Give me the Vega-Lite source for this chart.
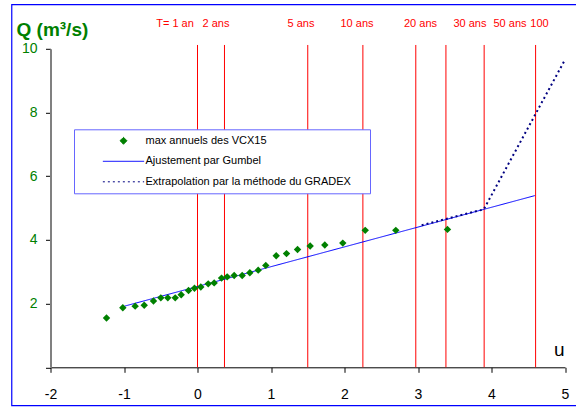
{
  "$schema": "https://vega.github.io/schema/vega-lite/v6.json",
  "width": 514.5,
  "height": 318.5,
  "autosize": "none",
  "padding": {"left": 50.5, "top": 48.8, "right": 11, "bottom": 39.7},
  "background": "white",
  "config": {"view": {"stroke": null}, "font": "Liberation Sans"},
  "datasets": {
    "obs": [
      {"u": -1.238, "Q": 1.55, "serie": "max annuels des VCX15"},
      {"u": -1.016, "Q": 1.87, "serie": "max annuels des VCX15"},
      {"u": -0.848, "Q": 1.92, "serie": "max annuels des VCX15"},
      {"u": -0.725, "Q": 1.95, "serie": "max annuels des VCX15"},
      {"u": -0.599, "Q": 2.08, "serie": "max annuels des VCX15"},
      {"u": -0.499, "Q": 2.18, "serie": "max annuels des VCX15"},
      {"u": -0.404, "Q": 2.18, "serie": "max annuels des VCX15"},
      {"u": -0.303, "Q": 2.18, "serie": "max annuels des VCX15"},
      {"u": -0.222, "Q": 2.28, "serie": "max annuels des VCX15"},
      {"u": -0.122, "Q": 2.41, "serie": "max annuels des VCX15"},
      {"u": -0.041, "Q": 2.48, "serie": "max annuels des VCX15"},
      {"u": 0.045, "Q": 2.52, "serie": "max annuels des VCX15"},
      {"u": 0.146, "Q": 2.62, "serie": "max annuels des VCX15"},
      {"u": 0.227, "Q": 2.65, "serie": "max annuels des VCX15"},
      {"u": 0.327, "Q": 2.80, "serie": "max annuels des VCX15"},
      {"u": 0.404, "Q": 2.84, "serie": "max annuels des VCX15"},
      {"u": 0.499, "Q": 2.88, "serie": "max annuels des VCX15"},
      {"u": 0.608, "Q": 2.88, "serie": "max annuels des VCX15"},
      {"u": 0.712, "Q": 2.97, "serie": "max annuels des VCX15"},
      {"u": 0.826, "Q": 3.05, "serie": "max annuels des VCX15"},
      {"u": 0.929, "Q": 3.20, "serie": "max annuels des VCX15"},
      {"u": 1.071, "Q": 3.50, "serie": "max annuels des VCX15"},
      {"u": 1.211, "Q": 3.57, "serie": "max annuels des VCX15"},
      {"u": 1.361, "Q": 3.70, "serie": "max annuels des VCX15"},
      {"u": 1.533, "Q": 3.81, "serie": "max annuels des VCX15"},
      {"u": 1.732, "Q": 3.84, "serie": "max annuels des VCX15"},
      {"u": 1.977, "Q": 3.90, "serie": "max annuels des VCX15"},
      {"u": 2.282, "Q": 4.30, "serie": "max annuels des VCX15"},
      {"u": 2.698, "Q": 4.30, "serie": "max annuels des VCX15"},
      {"u": 3.401, "Q": 4.33, "serie": "max annuels des VCX15"}
    ],
    "gumbel": [
      {"u": -0.993, "Q": 1.92, "serie": "Ajustement par Gumbel"},
      {"u": 4.589, "Q": 5.39, "serie": "Ajustement par Gumbel"}
    ],
    "gradex": [
      {"u": 3.05, "Q": 4.46, "serie": "Extrapolation par la méthode du GRADEX"},
      {"u": 3.895, "Q": 4.96, "serie": "Extrapolation par la méthode du GRADEX"},
      {"u": 5.003, "Q": 9.67, "serie": "Extrapolation par la méthode du GRADEX"}
    ],
    "periodes": [
      {"T": "T= 1 an", "u": 0, "u_label": -0.306},
      {"T": "2 ans", "u": 0.367, "u_label": 0.252},
      {"T": "5 ans", "u": 1.5, "u_label": 1.408},
      {"T": "10 ans", "u": 2.25, "u_label": 2.17},
      {"T": "20 ans", "u": 2.97, "u_label": 3.034},
      {"T": "30 ans", "u": 3.38, "u_label": 3.707},
      {"T": "50 ans", "u": 3.9, "u_label": 4.252},
      {"T": "100", "u": 4.6, "u_label": 4.653}
    ]
  },
  "layer": [
    {
      "data": {"values": [{}]},
      "mark": {"type": "rect", "filled": false, "stroke": "#0000ff", "strokeWidth": 1.2},
      "encoding": {
        "x": {"datum": -2.527, "type": "quantitative"},
        "x2": {"datum": 5.3},
        "y": {"datum": -1.206, "type": "quantitative"},
        "y2": {"datum": 11.385}
      }
    },
    {
      "data": {"name": "periodes"},
      "mark": {"type": "rule", "color": "#ff0000", "strokeWidth": 1},
      "encoding": {
        "x": {"field": "u", "type": "quantitative"},
        "y": {"datum": 0, "type": "quantitative"},
        "y2": {"datum": 10.12}
      }
    },
    {
      "data": {"name": "periodes"},
      "mark": {"type": "text", "color": "#ff0000", "fontSize": 11, "font": "Liberation Sans", "align": "center", "baseline": "middle"},
      "encoding": {
        "x": {"field": "u_label", "type": "quantitative"},
        "y": {"datum": 10.77, "type": "quantitative"},
        "text": {"field": "T"}
      }
    },
    {
      "data": {"name": "gumbel"},
      "mark": {"type": "line", "strokeWidth": 1},
      "encoding": {
        "x": {"field": "u", "type": "quantitative"},
        "y": {"field": "Q", "type": "quantitative"},
        "color": {"field": "serie", "type": "nominal"},
        "strokeDash": {
          "field": "serie", "type": "nominal",
          "scale": {
            "domain": ["max annuels des VCX15", "Ajustement par Gumbel", "Extrapolation par la méthode du GRADEX"],
            "range": [[1, 0], [1, 0], [2, 3]]
          }
        }
      }
    },
    {
      "data": {"name": "gradex"},
      "mark": {"type": "line", "strokeWidth": 2},
      "encoding": {
        "x": {"field": "u", "type": "quantitative"},
        "y": {"field": "Q", "type": "quantitative"},
        "color": {"field": "serie", "type": "nominal"},
        "strokeDash": {"field": "serie", "type": "nominal"}
      }
    },
    {
      "data": {"name": "obs"},
      "mark": {"type": "point", "filled": true, "size": 55, "opacity": 1},
      "encoding": {
        "x": {
          "field": "u", "type": "quantitative",
          "scale": {"domain": [-2, 5], "nice": false, "zero": false},
          "axis": {
            "values": [-2, -1, 0, 1, 2, 3, 4, 5],
            "labelExpr": "datum.value + ''",
            "labelFlush": false,
            "grid": false,
            "domainColor": "black", "domainWidth": 1,
            "tickColor": "black", "tickSize": 5,
            "labelFont": "Liberation Sans", "labelFontSize": 14, "labelColor": "black", "labelPadding": 15,
            "title": "u", "titleFont": "Liberation Sans", "titleFontSize": 19, "titleFontWeight": "normal", "titleColor": "black",
            "titleAlign": "center", "titleBaseline": "alphabetic", "titleX": 508.2, "titleY": -11.6
          }
        },
        "y": {
          "field": "Q", "type": "quantitative",
          "scale": {"domain": [0, 10], "nice": false, "zero": false},
          "axis": {
            "values": [0, 2, 4, 6, 8, 10],
            "labelExpr": "datum.value == 0 ? '' : datum.value + ''",
            "labelFlush": false,
            "grid": false,
            "domainColor": "#808080", "domainWidth": 2,
            "tickColor": "black", "tickSize": 5,
            "labelFont": "Liberation Sans", "labelFontSize": 14, "labelColor": "#008000", "labelPadding": 8.5,
            "title": "Q (m³/s)", "titleFont": "Liberation Sans", "titleFontSize": 19, "titleFontWeight": "bold", "titleColor": "#008000",
            "titleAngle": 0, "titleAlign": "left", "titleBaseline": "alphabetic", "titleX": -34.5, "titleY": -13.3
          }
        },
        "shape": {
          "field": "serie", "type": "nominal",
          "scale": {
            "domain": ["max annuels des VCX15", "Ajustement par Gumbel", "Extrapolation par la méthode du GRADEX"],
            "range": ["M0,-1L1,0L0,1L-1,0Z", "M-5.9,0L5.9,0", "M-5.9,0L5.9,0"]
          }
        },
        "color": {
          "field": "serie", "type": "nominal",
          "scale": {
            "domain": ["max annuels des VCX15", "Ajustement par Gumbel", "Extrapolation par la méthode du GRADEX"],
            "range": ["#008000", "#0000ff", "#000080"]
          },
          "legend": {
            "orient": "none", "legendX": 23.5, "legendY": 80.5,
            "title": "\u00a0",
            "titleOrient": "right", "titlePadding": 16, "titleFontSize": 11,
            "padding": 3,
            "strokeColor": "#6666ff", "fillColor": "white",
            "symbolSize": 49, "symbolOffset": 41, "labelOffset": 16.5,
            "symbolStrokeWidth": 1,
            "clipHeight": 17, "rowPadding": 3.5,
            "labelFont": "Liberation Sans", "labelFontSize": 11, "labelColor": "black", "labelLimit": 400
          }
        }
      }
    }
  ]
}
